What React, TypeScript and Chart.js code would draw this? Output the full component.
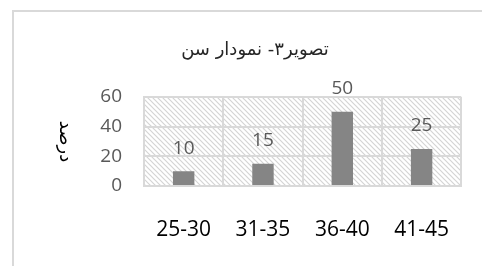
import React, { useEffect, useRef } from "react";
import { Chart, registerables } from "chart.js";

Chart.register(...registerables);

const categories = ["25-30", "31-35", "36-40", "41-45"];
const values = [10, 15, 50, 25];
const yTicks = [0, 20, 40, 60];
const titleText = "تصویر۳- نمودار سن";
const yTitleText = "درصد";

function makePattern(ctx: CanvasRenderingContext2D) {
  const c = document.createElement("canvas");
  c.width = 5;
  c.height = 5;
  const g = c.getContext("2d")!;
  g.fillStyle = "#ffffff";
  g.fillRect(0, 0, 5, 5);
  g.strokeStyle = "#d4d4d4";
  g.lineWidth = 1.2;
  g.beginPath();
  g.moveTo(-1, -1);
  g.lineTo(6, 6);
  g.moveTo(-1, 4);
  g.lineTo(1, 6);
  g.moveTo(4, -1);
  g.lineTo(6, 1);
  g.stroke();
  return ctx.createPattern(c, "repeat");
}

const decorPlugin = {
  id: "decor",
  beforeDraw(chart: any) {
    const ctx = chart.ctx as CanvasRenderingContext2D;
    const a = chart.chartArea;
    ctx.save();
    ctx.fillStyle = "#ffffff";
    ctx.fillRect(0, 0, chart.width, chart.height);
    ctx.strokeStyle = "#d9d9d9";
    ctx.lineWidth = 2;
    ctx.beginPath();
    ctx.moveTo(13, chart.height);
    ctx.lineTo(13, 11);
    ctx.lineTo(chart.width, 11);
    ctx.stroke();
    const p = makePattern(ctx);
    if (p) {
      ctx.fillStyle = p;
      ctx.fillRect(a.left, a.top, a.right - a.left, a.bottom - a.top);
    }
    ctx.restore();
  },
  afterDraw(chart: any) {
    const ctx = chart.ctx as CanvasRenderingContext2D;
    const a = chart.chartArea;
    ctx.save();
    ctx.font = "18px 'DejaVu Sans', 'Noto Sans', sans-serif";
    ctx.fillStyle = "#262626";
    ctx.textAlign = "center";
    ctx.textBaseline = "middle";
    ctx.fillText(titleText, 255, 50);
    ctx.save();
    ctx.translate(65, (a.top + a.bottom) / 2);
    ctx.rotate(Math.PI / 2);
    ctx.font = "18px 'DejaVu Sans', sans-serif";
    ctx.fillStyle = "#000000";
    ctx.fillText(yTitleText, 0, 0);
    ctx.restore();
    const meta = chart.getDatasetMeta(0);
    ctx.font = "19px 'Open Sans', sans-serif";
    ctx.fillStyle = "#595959";
    meta.data.forEach((bar: any, i: number) => {
      ctx.fillText(String(values[i]), bar.x, bar.y - 23);
    });
    ctx.restore();
  },
};

export default function App() {
  const ref = useRef<HTMLCanvasElement | null>(null);
  useEffect(() => {
    if (!ref.current) return;
    const chart = new Chart(ref.current, {
      type: "bar",
      data: {
        labels: categories,
        datasets: [
          {
            data: values,
            backgroundColor: "#858585",
            borderWidth: 0,
            categoryPercentage: 1,
            barPercentage: 0.27,
          },
        ],
      },
      options: {
        responsive: false,
        animation: false,
        layout: { padding: { left: 12, right: 16, top: 97, bottom: 0 } },
        plugins: {
          legend: { display: false },
          title: { display: false },
          tooltip: { enabled: false },
        },
        scales: {
          x: {
            offset: true,
            grid: { offset: true, color: "#d9d9d9", lineWidth: 2, drawTicks: false },
            border: { display: true, color: "#d9d9d9", width: 2 },
            ticks: {
              color: "#000000",
              font: { family: "'Open Sans', sans-serif", size: 21 },
              padding: 31,
              maxRotation: 0,
              autoSkip: false,
            },
            afterFit(scale: any) {
              scale.height = 80;
            },
          },
          y: {
            min: 0,
            max: 60,
            afterBuildTicks(scale: any) {
              scale.ticks = yTicks.map((v) => ({ value: v }));
            },
            grid: { color: "#d9d9d9", lineWidth: 2, drawTicks: false },
            border: { display: true, color: "#d9d9d9", width: 2 },
            ticks: {
              color: "#595959",
              font: { family: "'Open Sans', sans-serif", size: 19 },
              padding: 22,
            },
            afterFit(scale: any) {
              scale.width = 132;
            },
          },
        },
      },
      plugins: [decorPlugin],
    });
    return () => chart.destroy();
  }, []);
  return (
    <div style={{ position: "absolute", left: 0, top: 0, width: 482, height: 266 }}>
      <canvas ref={ref} width={482} height={266} />
    </div>
  );
}
